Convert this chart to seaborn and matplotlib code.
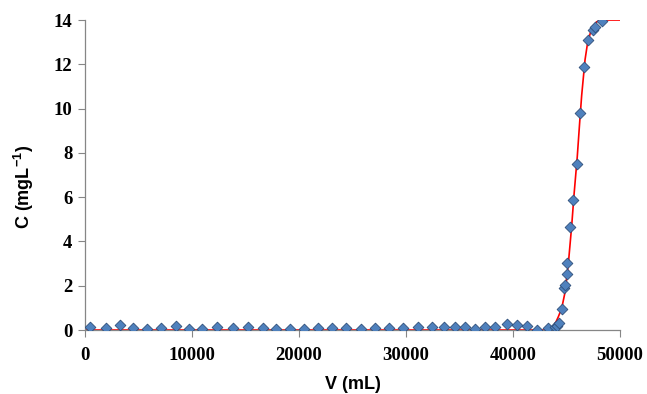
import matplotlib
matplotlib.use("Agg")
import matplotlib.pyplot as plt
import seaborn as sns
import pandas as pd

# Measured points
volume_ml = [467, 1963, 3271, 4518, 5763, 7078, 8477, 9720, 10963, 12305, 13863, 15265,
             16667, 17850, 19159, 20467, 21804, 23050, 24393,
             25766, 27103, 28439, 29751, 31150, 32399, 33551, 34579, 35514, 36449, 37383,
             38318, 39408, 40343, 41277, 42274, 43299,
             43925, 44080, 44330, 44548, 44780, 44860, 45016, 45078, 45327, 45640, 46012,
             46262, 46667, 47040, 47500, 47700, 48290]
conc = [0.15, 0.11, 0.23, 0.11, 0.05, 0.11, 0.17, 0.05, 0.05, 0.15, 0.11, 0.15,
        0.11, 0.05, 0.05, 0.05, 0.11, 0.11, 0.11,
        0.03, 0.08, 0.08, 0.08, 0.15, 0.15, 0.15, 0.15, 0.15, 0.03, 0.15,
        0.15, 0.26, 0.23, 0.18, 0.0, 0.08,
        0.12, 0.2, 0.33, 0.93, 1.9, 2.05, 2.51, 3.04, 4.64, 5.87, 7.5,
        9.79, 11.9, 13.1, 13.55, 13.7, 13.97]

# Fitted curve
fit_v = [0, 43000, 43500, 43800, 44000, 44236, 44548, 44860, 45171, 45483, 45700,
         46000, 46262, 46417, 46729, 46978, 47352, 47819, 48290, 50000]
fit_c = [0, 0, 0.08, 0.2, 0.35, 0.6, 0.98, 1.7, 3.0, 4.7, 6.1,
         7.8, 9.6, 10.6, 12.2, 13.0, 13.62, 13.92, 14.0, 14.0]

x_ticks = [0, 10000, 20000, 30000, 40000, 50000]
y_ticks = [0, 2, 4, 6, 8, 10, 12, 14]

sns.set_theme(style="white")
plt.rcParams["mathtext.fontset"] = "custom"
plt.rcParams["mathtext.bf"] = "Liberation Sans:bold"
plt.rcParams["mathtext.rm"] = "Liberation Sans:bold"
plt.rcParams["mathtext.default"] = "bf"
plt.rcParams["text.color"] = "black"
plt.rcParams["axes.labelcolor"] = "black"

fig = plt.figure(figsize=(6.47, 3.94), dpi=100)
ax = fig.add_axes([0.1314, 0.1624, 0.8269, 0.7868])

pts = pd.DataFrame({"V": volume_ml, "C": conc})
fit = pd.DataFrame({"V": fit_v, "C": fit_c})

sns.lineplot(data=fit, x="V", y="C", ax=ax, color="#FF0000", linewidth=1.2, zorder=2)
sns.scatterplot(data=pts, x="V", y="C", ax=ax, marker="D", s=30,
                color="#4F81BD", edgecolor="#2F4F7A", linewidth=0.6, zorder=3)

ax.set_xlim(0, 50000)
ax.set_ylim(0, 14)
ax.set_xticks(x_ticks)
ax.set_yticks(y_ticks)
ax.set_xticklabels([str(t) for t in x_ticks])
ax.set_yticklabels([str(t) for t in y_ticks])

for lbl in ax.get_xticklabels() + ax.get_yticklabels():
    lbl.set_fontfamily("Liberation Serif")
    lbl.set_fontweight("bold")
    lbl.set_fontsize(13.5)
    lbl.set_color("black")

ax.tick_params(axis="both", direction="out", length=5, width=0.8, color="#868686",
               bottom=True, left=True, pad=4, labelcolor="black")
ax.tick_params(axis="x", pad=7)

for side in ["top", "right"]:
    ax.spines[side].set_visible(False)
for side in ["left", "bottom"]:
    ax.spines[side].set_color("#868686")
    ax.spines[side].set_linewidth(0.9)

ax.set_xlabel("V (mL)", fontfamily="Liberation Sans", fontweight="bold", fontsize=13,
              labelpad=9, color="black")
ax.set_ylabel("C (mgL$^{-1}$)", fontfamily="Liberation Sans", fontweight="bold", fontsize=13,
              labelpad=12, color="black")
ax.yaxis.set_label_coords(-0.092, 0.46)

fig.savefig("out.png", dpi=100)
